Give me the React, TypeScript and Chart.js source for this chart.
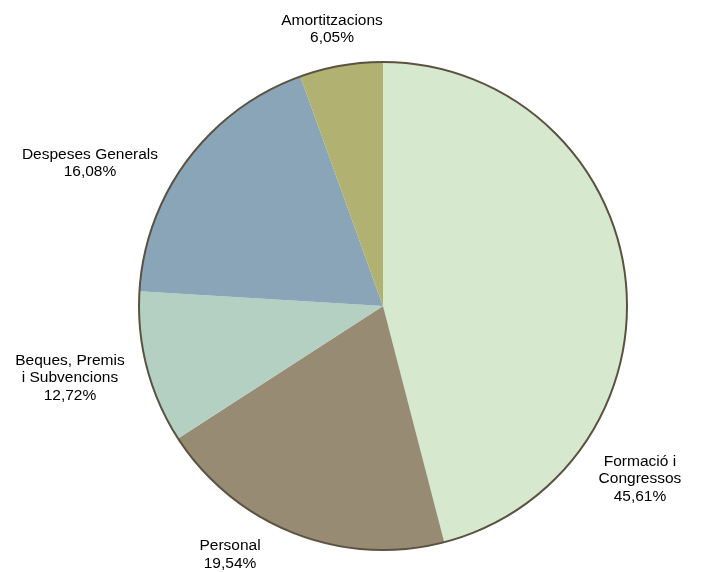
import React, { useEffect, useRef } from "react";
import { Chart, registerables } from "chart.js";

Chart.register(...registerables);

const categories = [
  "Formació i Congressos",
  "Personal",
  "Beques, Premis i Subvencions",
  "Despeses Generals",
  "Amortitzacions",
];
const labelLines = [
  ["Formació i", "Congressos"],
  ["Personal"],
  ["Beques, Premis", "i Subvencions"],
  ["Despeses Generals"],
  ["Amortitzacions"],
];
// percentages printed on the labels
const labelPercents = [45.61, 19.54, 12.72, 16.08, 6.05];
// slice sizes as drawn in the picture (measured from the slice angles)
const sliceValues = [45.96, 19.91, 10.1, 18.53, 5.5];
const colors = ["#d6e9ce", "#988b74", "#b3d0c3", "#8aa5b7", "#b1b172"];
// label anchors relative to pie center, in units of radius
const labelAnchors = [
  [1.053, 0.709],
  [-0.627, 1.02],
  [-1.283, 0.295],
  [-1.201, -0.586],
  [-0.209, -1.135],
];

const fmt = (v: number) => v.toFixed(2).replace(".", ",") + "%";

const pieDecor = {
  id: "pieDecor",
  afterDatasetsDraw(chart: any) {
    const meta = chart.getDatasetMeta(0);
    const arc = meta.data[0];
    if (!arc) return;
    const { x, y, outerRadius } = arc.getProps(["x", "y", "outerRadius"], true);
    const ctx = chart.ctx;
    ctx.save();
    ctx.beginPath();
    ctx.arc(x, y, outerRadius, 0, Math.PI * 2);
    ctx.lineWidth = 2;
    ctx.strokeStyle = "#5b5242";
    ctx.stroke();
    ctx.fillStyle = "#000";
    ctx.font = '15.5px "Liberation Sans", Arial, sans-serif';
    ctx.textAlign = "center";
    ctx.textBaseline = "middle";
    const lh = 17.5;
    categories.forEach((_, i) => {
      const lines = [...labelLines[i], fmt(labelPercents[i])];
      const cx = x + labelAnchors[i][0] * outerRadius;
      const cy = y + labelAnchors[i][1] * outerRadius;
      const top = cy - ((lines.length - 1) * lh) / 2;
      lines.forEach((t, j) => ctx.fillText(t, cx, top + j * lh));
    });
    ctx.restore();
  },
};

export default function App() {
  const ref = useRef<HTMLCanvasElement>(null);
  useEffect(() => {
    if (!ref.current) return;
    const chart = new Chart(ref.current, {
      type: "pie",
      data: {
        labels: categories,
        datasets: [
          {
            data: sliceValues,
            backgroundColor: colors,
            borderWidth: 0,
          },
        ],
      },
      options: {
        responsive: false,
        animation: false,
        layout: { padding: { left: 139, right: 75, top: 62, bottom: 22 } },
        plugins: {
          legend: { display: false },
          tooltip: { enabled: false },
        },
      },
      plugins: [pieDecor],
    });
    return () => chart.destroy();
  }, []);
  return (
    <div style={{ position: "fixed", left: 0, top: 0, width: 702, height: 572, background: "#fff" }}>
      <canvas ref={ref} width={702} height={572} style={{ display: "block" }} />
    </div>
  );
}
